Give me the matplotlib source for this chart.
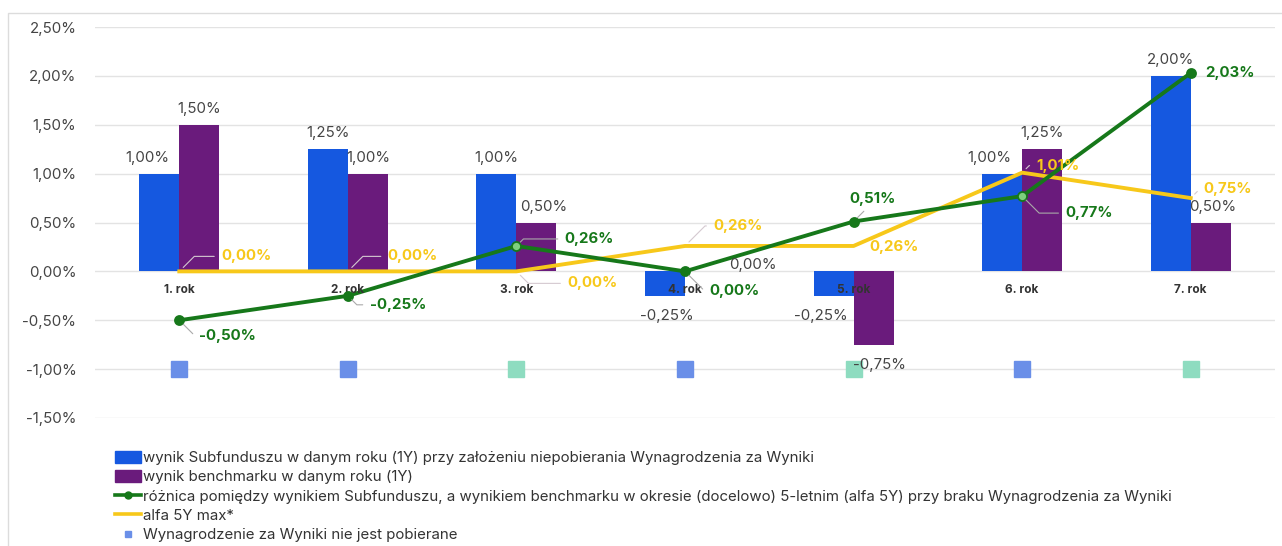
import matplotlib
matplotlib.use("Agg")
import matplotlib.pyplot as plt
from matplotlib.patches import Rectangle, Patch
from matplotlib.lines import Line2D
import numpy as np

plt.rcParams['font.family'] = ['Inter', 'DejaVu Sans']

categories = ["1. rok", "2. rok", "3. rok", "4. rok", "5. rok", "6. rok", "7. rok"]
fund_1y = [1.00, 1.25, 1.00, -0.25, -0.25, 1.00, 2.00]
bench_1y = [1.50, 1.00, 0.50, 0.00, -0.75, 1.25, 0.50]
alpha_5y = [-0.50, -0.25, 0.26, 0.00, 0.51, 0.77, 2.03]
alpha_5y_max = [0.00, 0.00, 0.00, 0.26, 0.26, 1.01, 0.75]
fee_level = [-1.00] * 7
fee_not_charged = [True, True, False, True, False, True, False]

legend_labels = [
    "wynik Subfunduszu w danym roku (1Y) przy założeniu niepobierania Wynagrodzenia za Wyniki",
    "wynik benchmarku w danym roku (1Y)",
    "różnica pomiędzy wynikiem Subfunduszu, a wynikiem benchmarku w okresie (docelowo) 5-letnim (alfa 5Y) przy braku Wynagrodzenia za Wyniki",
    "alfa 5Y max*",
    "Wynagrodzenie za Wyniki nie jest pobierane",
]
yticks = [-1.5, -1.0, -0.5, 0.0, 0.5, 1.0, 1.5, 2.0, 2.5]

BLUE = "#1558e0"
PURPLE = "#6a1b7c"
GREEN = "#16781a"
YELLOW = "#f7c81a"
SQ_BLUE = "#6a8fe8"
SQ_MINT = "#8edcc0"
TXT = "#444444"
FS = 10.8

def pct(v):
    return f"{v:.2f}".replace(".", ",").replace("-0,00", "0,00") + "%"

fig = plt.figure(figsize=(12.82, 5.46), dpi=100)
fig.patch.set_facecolor("white")
fig.patches.append(Rectangle((8 / 1282, -0.1), 1.2, 1 - 13 / 546 + 0.1, transform=fig.transFigure,
                             fill=False, edgecolor="#dcdcdc", linewidth=1.0, zorder=0))

ax = fig.add_axes([95 / 1282, 1 - 418 / 546, (1275 - 95) / 1282, (418 - 27) / 546])
x = np.arange(len(categories))
w = 0.237
ax.bar(x - w / 2, fund_1y, width=w, color=BLUE, zorder=2)
ax.bar(x + w / 2, bench_1y, width=w, color=PURPLE, zorder=2)

ax.set_xlim(-0.5, len(categories) - 0.5)
ax.set_ylim(-1.5, 2.5)
ax.set_yticks(yticks)
ax.set_yticklabels([pct(t) for t in yticks], fontsize=FS, color=TXT)
ax.tick_params(axis="y", length=0, pad=13.5)
ax.set_xticks([])
for s in ax.spines.values():
    s.set_visible(False)
ax.grid(axis="y", color="#e3e3e3", linewidth=1.0, zorder=0)
ax.set_axisbelow(True)

# category labels just below zero line
for i, c in enumerate(categories):
    ax.annotate(c, xy=(x[i], 0), xytext=(0, -19), textcoords="offset pixels",
                ha="center", va="center", fontsize=8.5, fontweight="bold", color="#333333", zorder=6)

# bar value labels (offsets in pixels)
fund_off = [(-12, 16), (0, 16), (0, 16), (2, -20), (-13, -20), (-13, 16), (0, 16)]
bench_off = [(0, 16), (0, 16), (7, 16), (48, 6), (6, -20), (0, 16), (2, 16)]
for i in range(len(categories)):
    v = fund_1y[i]
    ax.annotate(pct(v), xy=(x[i] - w / 2, v), xytext=fund_off[i], textcoords="offset pixels",
                ha="center", va="center", fontsize=FS, color=TXT, zorder=6)
    v = bench_1y[i]
    ax.annotate(pct(v), xy=(x[i] + w / 2, v), xytext=bench_off[i], textcoords="offset pixels",
                ha="center", va="center", fontsize=FS, color=TXT, zorder=6)

# lines
ax.plot(x, alpha_5y_max, color=YELLOW, linewidth=2.8, zorder=4)
ax.plot(x, alpha_5y, color=GREEN, linewidth=2.8, zorder=5)
hollow = [False, False, True, False, False, True, False]
for i in range(len(categories)):
    ax.plot(x[i], alpha_5y[i], marker="o", markersize=6.5, color=GREEN,
            markerfacecolor="#7ed07e" if hollow[i] else GREEN, markeredgewidth=1.3, zorder=6)


def leader(dy):
    if abs(dy) < 4:
        return None
    ang = 45 if dy > 0 else -45
    return dict(arrowstyle="-", lw=0.8, shrinkA=3, shrinkB=4,
                connectionstyle=f"angle,angleA=0,angleB={ang},rad=0")


green_off = [(48, -16), (50, -9), (73, 7), (49, -20), (19, 23), (67, -17), (39, 0)]
yellow_off = [(67, 15), (65, 15), (76, -12), (53, 20), (40, -1), (36, 7), (37, 9)]
for i in range(len(categories)):
    ap = leader(green_off[i][1])
    if ap:
        ap["color"] = "#a9a9a9"
    ax.annotate(pct(alpha_5y[i]), xy=(x[i], alpha_5y[i]), xytext=green_off[i], textcoords="offset pixels",
                ha="center", va="center", fontsize=FS, fontweight="bold", color=GREEN, zorder=7,
                arrowprops=ap)
    ap = leader(yellow_off[i][1])
    if ap:
        ap["color"] = "#d4c9d0"
    ax.annotate(pct(alpha_5y_max[i]), xy=(x[i], alpha_5y_max[i]), xytext=yellow_off[i], textcoords="offset pixels",
                ha="center", va="center", fontsize=FS, fontweight="bold", color=YELLOW, zorder=7,
                arrowprops=ap)

# fee markers
for i in range(len(categories)):
    ax.plot(x[i], fee_level[i], marker="s", markersize=11, linestyle="none",
            color=SQ_BLUE if fee_not_charged[i] else SQ_MINT, zorder=3)

handles = [
    Patch(facecolor=BLUE, edgecolor=BLUE),
    Patch(facecolor=PURPLE, edgecolor=PURPLE),
    Line2D([], [], color=GREEN, linewidth=2.6, marker="o", markersize=5),
    Line2D([], [], color=YELLOW, linewidth=2.6),
    Line2D([], [], color=SQ_BLUE, marker="s", markersize=5, linestyle="none"),
]
fig.legend(handles, legend_labels, loc="upper left", bbox_to_anchor=(115 / 1282, 1 - 451 / 546),
           frameon=False, fontsize=FS, labelcolor="#333333", handlelength=1.7, handleheight=0.8,
           handletextpad=0.15, labelspacing=0.35, borderpad=0, borderaxespad=0)

fig.savefig("out.png", dpi=100)
